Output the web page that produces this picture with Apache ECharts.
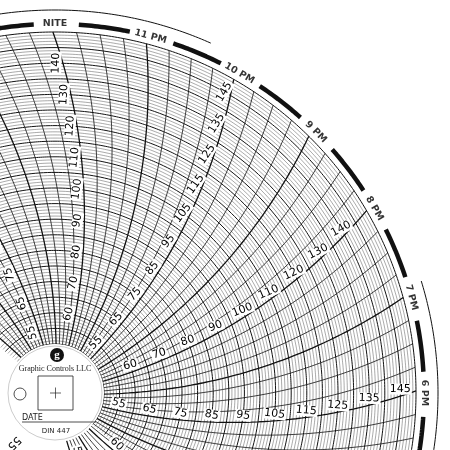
<!DOCTYPE html>
<html><head><meta charset="utf-8">
<script src="https://cdn.jsdelivr.net/npm/echarts@6/dist/echarts.min.js"></script>
<style>html,body{margin:0;padding:0;background:#fff}#c{width:450px;height:450px}</style>
</head><body><div id="c"></div>
<script>
// ---- data ----
var hourLabels = ['6 PM','7 PM','8 PM','9 PM','10 PM','11 PM','NITE','1 AM','2 AM','3 AM','4 AM','5 AM','6 AM','7 AM','8 AM','9 AM','10 AM','11 AM','NOON','1 PM','2 PM','3 PM','4 PM','5 PM'];
var oddValues = [55,65,75,85,95,105,115,125,135,145];
var evenValues = [60,70,80,90,100,110,120,130,140];
var valueMin = 50, valueMax = 150;
var quartersPerHour = 4;

// ---- chart geometry (grid construction) ----
var CX = 55, CY = 393, R0 = 49, R1 = 361;
var pxPerUnit = (R1 - R0) / (valueMax - valueMin);
var bandV = valueMax + 8 / pxPerUnit;
var outerV = valueMax + 22 / pxPerUnit;
var axisMax = valueMax + 26 / pxPerUnit;
var ARC = 550, REF = 355;
function px(v){ return R0 + (v - valueMin) * pxPerUnit; }
function theta(H, v){
  var r = px(v);
  return H - (Math.acos(r / (2*ARC)) - Math.acos(REF / (2*ARC))) * 180 / Math.PI;
}
function timeLine(H){
  var d = [];
  for (var v = valueMin; v <= valueMax; v += 2) d.push([v, theta(H, v)]);
  return d;
}
function circle(v, a1, a2){
  var d = [];
  for (var a = a1; a <= a2 + 0.001; a += 0.5) d.push([v, a]);
  return d;
}
var series = [];
for (var v = valueMin; v <= valueMax; v++) {
  var bold = v % 5 === 0;
  series.push({type:'line', coordinateSystem:'polar', data: circle(v, -40, 140), symbol:'none', silent:true,
    lineStyle:{color: bold ? '#111' : '#555', width: bold ? 1 : 0.5}});
}
for (var q = 0; q < 24 * quartersPerHour; q++) {
  var H = q * 15 / quartersPerHour;
  if (H > 150 && H < 300) continue;
  var hour = q % quartersPerHour === 0;
  series.push({type:'line', coordinateSystem:'polar', data: timeLine(H), symbol:'none', silent:true,
    lineStyle:{color:'#111', width: hour ? 1.3 : 0.8}});
}
var labelData = [];
for (var h = 0; h < 24; h += 2) {
  var Hh = h * 15;
  var vals = (h % 4 === 0) ? oddValues : evenValues;
  vals.forEach(function(v){
    var t = theta(Hh, v);
    var off = 7 / px(v) * 180 / Math.PI;
    labelData.push({value:[v, t + off], label:{rotate: t}, name: String(v)});
  });
}
series.push({type:'scatter', coordinateSystem:'polar', data: labelData, symbolSize:0, silent:true, z:5,
  label:{show:true, position:'inside', formatter:function(p){return p.name;}, color:'#000', opacity:1,
    fontFamily:'DejaVu Sans', fontSize:11, backgroundColor:'#fff', padding:[0,1]}});
var gap = 3.3;
for (var k = 0; k < 24; k++) {
  series.push({type:'line', coordinateSystem:'polar', data: circle(bandV, k*15 + gap, (k+1)*15 - gap), symbol:'none', silent:true,
    lineStyle:{color:'#111', width:4.5}});
}
series.push({type:'line', coordinateSystem:'polar', data: circle(outerV, 66, 140), symbol:'none', silent:true,
  lineStyle:{color:'#111', width:1}});
series.push({type:'line', coordinateSystem:'polar', data: circle(outerV, -20, 17), symbol:'none', silent:true,
  lineStyle:{color:'#111', width:1}});
series.push({type:'scatter', coordinateSystem:'polar', symbolSize:0, silent:true, z:5,
  data: hourLabels.map(function(l, i){ return {name:l, value:[bandV, i*15], label:{rotate: i*15 - 90}}; }),
  label:{show:true, position:'inside', formatter:function(p){return p.name;}, color:'#000',
    fontFamily:'DejaVu Sans', fontWeight:'bold', fontSize:9.5}});

var chart = echarts.init(document.getElementById('c'));
chart.setOption({
  animation:false,
  backgroundColor:'#fff',
  polar:{center:[CX, CY], radius:[R0, R0 + (axisMax - valueMin) * pxPerUnit]},
  angleAxis:{type:'value', min:-180, max:180, startAngle:180, clockwise:false,
    axisLine:{show:false}, axisTick:{show:false}, axisLabel:{show:false}, splitLine:{show:false}},
  radiusAxis:{type:'value', min:valueMin, max:axisMax,
    axisLine:{show:false}, axisTick:{show:false}, axisLabel:{show:false}, splitLine:{show:false}},
  series: series,
  graphic:[
    {type:'circle', shape:{cx:CX, cy:CY, r:47}, style:{fill:'#fff', stroke:'#999', lineWidth:0.5}, z:100},
    {type:'circle', shape:{cx:57, cy:355, r:7}, style:{fill:'#111'}, z:101},
    {type:'text', x:57, y:355, style:{text:'g', fill:'#fff', font:'bold 11px serif', align:'center', verticalAlign:'middle'}, z:102},
    {type:'text', x:55, y:369, style:{text:'Graphic Controls LLC', fill:'#222', font:'8px "Liberation Serif"', align:'center', verticalAlign:'middle'}, z:101},
    {type:'rect', shape:{x:38, y:376, width:35, height:34}, style:{fill:'none', stroke:'#222', lineWidth:0.8}, z:101},
    {type:'line', shape:{x1:50, y1:393, x2:61, y2:393}, style:{stroke:'#222', lineWidth:0.7}, z:101},
    {type:'line', shape:{x1:55.5, y1:387.5, x2:55.5, y2:398.5}, style:{stroke:'#222', lineWidth:0.7}, z:101},
    {type:'circle', shape:{cx:20, cy:394, r:6}, style:{fill:'#fff', stroke:'#222', lineWidth:0.8}, z:101},
    {type:'text', x:22, y:418, style:{text:'DATE', fill:'#222', font:'8px "DejaVu Sans"', verticalAlign:'middle'}, z:101},
    {type:'line', shape:{x1:22, y1:422, x2:96, y2:422}, style:{stroke:'#222', lineWidth:0.8}, z:101},
    {type:'text', x:56, y:431, style:{text:'DIN 447', fill:'#222', font:'7px "DejaVu Sans"', align:'center', verticalAlign:'middle'}, z:101}
  ]
});
</script></body></html>
